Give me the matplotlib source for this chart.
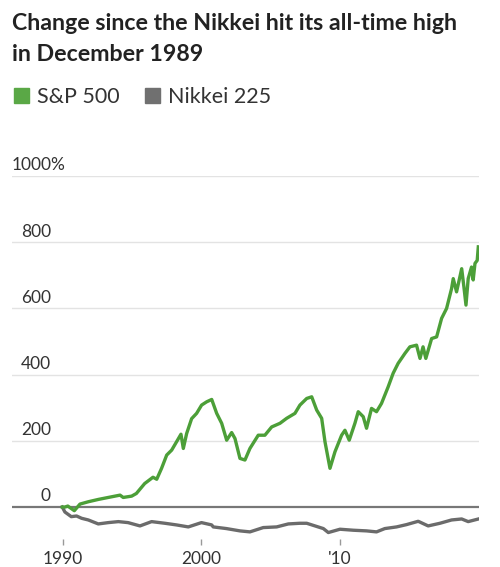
import matplotlib
matplotlib.use('Agg')
import matplotlib.pyplot as plt
from matplotlib.patches import Rectangle

# S&P 500, % change since Dec 1989
sp_years = [1989.95, 1990.14, 1990.35, 1990.82, 1991.23, 1991.83, 1992.55, 1993.27,
            1994.12, 1994.35, 1994.96, 1995.3, 1995.9, 1996.5, 1996.77, 1997.12,
            1997.49, 1997.85, 1998.2, 1998.52, 1998.69, 1998.93, 1999.29, 1999.65,
            2000.01, 2000.38, 2000.74, 2001.1, 2001.46, 2001.82, 2002.18, 2002.42,
            2002.78, 2003.14, 2003.5, 2004.1, 2004.58, 2005.07, 2005.67, 2006.15,
            2006.75, 2007.11, 2007.6, 2007.96, 2008.32, 2008.68, 2008.92, 2009.28,
            2009.64, 2010.12, 2010.36, 2010.67, 2011.08, 2011.32, 2011.68, 2011.92,
            2012.28, 2012.64, 2013.0, 2013.48, 2013.84, 2014.2, 2014.69, 2015.05,
            2015.53, 2015.78, 2016.0, 2016.2, 2016.62, 2016.98, 2017.34, 2017.7,
            2018.06, 2018.18, 2018.42, 2018.79, 2018.95, 2019.1, 2019.26, 2019.5,
            2019.62, 2019.75, 2019.91, 2019.99]
sp_values = [0, 0, 3, -11, 9, 16, 23, 29,
             36, 29, 33, 41, 71, 90, 84, 117,
             157, 172, 197, 220, 177, 222, 267, 283,
             308, 318, 325, 283, 253, 202, 225, 207,
             147, 142, 177, 217, 217, 242, 253, 268,
             283, 308, 328, 333, 293, 268, 197, 117,
             167, 217, 232, 202, 253, 288, 273, 238,
             298, 288, 313, 363, 404, 434, 464, 484,
             489, 449, 484, 449, 509, 514, 570, 600,
             660, 690, 650, 720, 665, 610, 690, 725,
             686, 736, 745, 786]

# Nikkei 225
nk_years = [1989.95, 1990.14, 1990.6, 1990.98, 1991.35, 1991.83, 1992.55, 1993.27,
            1994.0, 1994.7, 1995.56, 1996.4, 1997.36, 1998.2, 1999.05, 2000.0,
            2000.74, 2000.85, 2001.8, 2002.78, 2003.5, 2004.46, 2005.43, 2006.27,
            2007.1, 2007.6, 2008.2, 2008.8, 2009.16, 2010.0, 2010.96, 2011.92,
            2012.64, 2013.24, 2014.09, 2014.81, 2015.65, 2016.37, 2017.22, 2018.06,
            2018.79, 2019.26, 2020.0]
nk_values = [0, -15, -29, -27, -34, -39, -51, -47,
             -44, -47, -57, -44, -49, -54, -60, -47,
             -54, -60, -65, -72, -75, -62, -60, -51,
             -49, -49, -57, -65, -77, -67, -70, -72,
             -75, -65, -60, -53, -43, -57, -49, -39,
             -36, -44, -36]

yticks = [0, 200, 400, 600, 800, 1000]
xticks = [1990, 2000, 2010]
xlabels = ['1990', '2000', "'10"]

GREEN = '#4c9f38'
GRAY = '#6b6b6b'
TXT = '#333333'
FONT = 'Lato'

W, H = 500, 567
fig = plt.figure(figsize=(W / 100, H / 100), dpi=100)
ax = fig.add_axes([12 / W, 1 - 538.5 / H, 467 / W, (538.5 - 176) / H])

for y in yticks[1:]:
  ax.axhline(y, color='#e3e3e3', lw=1, zorder=1)
ax.axhline(0, color='#777777', lw=1.6, zorder=2)

ax.plot(nk_years, nk_values, color=GRAY, lw=2.4, zorder=3, solid_joinstyle='round')
ax.plot(sp_years, sp_values, color=GREEN, lw=2.4, zorder=4, solid_joinstyle='round')

ax.set_xlim(1986.32, 2020.04)
ax.set_ylim(-95, 1000)
for s in ax.spines.values():
  s.set_visible(False)
ax.set_yticks([])
ax.set_xticks(xticks)
ax.set_xticklabels(xlabels, fontsize=12.5, color=TXT, family=FONT)
ax.tick_params(axis='x', length=4, width=1, color='#999999', pad=5)

# y labels sit above their gridlines, right aligned (1000% hangs its % sign)
ytr = ax.get_yaxis_transform()
for y in yticks:
  if y == 1000:
    ax.text(0.0, y + 8, '1000%', transform=ytr, fontsize=12.5,
            color=TXT, family=FONT, ha='left', va='bottom')
  else:
    ax.text(0.083, y + 8, str(y), transform=ytr, fontsize=12.5,
            color=TXT, family=FONT, ha='right', va='bottom')

fig.text(12 / W, 1 - 30 / H, 'Change since the Nikkei hit its all-time high', fontsize=16.7,
         fontweight='bold', color='#222222', family=FONT, va='baseline')
fig.text(12 / W, 1 - 61 / H, 'in December 1989', fontsize=16.7,
         fontweight='bold', color='#222222', family=FONT, va='baseline')

# legend
fig.patches.append(Rectangle((14 / W, 1 - 103 / H), 15 / W, 15 / H, transform=fig.transFigure,
                             color='#5aa846', figure=fig))
fig.text(37 / W, 1 - 103 / H, 'S&P 500', fontsize=15.5, color=TXT, family=FONT, va='baseline')
fig.patches.append(Rectangle((145 / W, 1 - 103 / H), 15 / W, 15 / H, transform=fig.transFigure,
                             color='#707070', figure=fig))
fig.text(168 / W, 1 - 103 / H, 'Nikkei 225', fontsize=15.5, color=TXT, family=FONT, va='baseline')

fig.savefig('out.png', dpi=100, facecolor='white')
